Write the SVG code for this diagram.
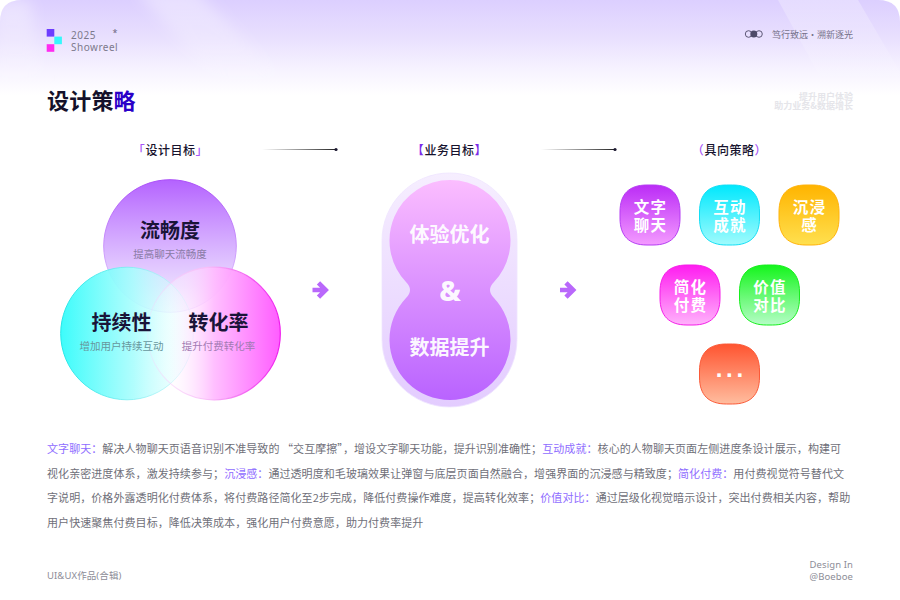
<svg xmlns="http://www.w3.org/2000/svg" width="900" height="600" viewBox="0 0 900 600">
<style>
text{font-family:"Noto Sans CJK SC","Noto Sans",sans-serif}
.r{text-anchor:end}
.hd{font-size:12px;font-weight:500;letter-spacing:.55px;fill:#17132e;text-anchor:middle}
.ac{fill:#a855f7}
.big{font-size:20px;font-weight:700;fill:#1a1438;text-anchor:middle}
.sub{font-size:10.5px;text-anchor:middle}
.cap{font-size:20px;font-weight:700;fill:#fff;text-anchor:middle;fill-opacity:.95}
.sq{font-size:15.5px;font-weight:700;fill:#fff;text-anchor:middle;letter-spacing:1.2px}
.body{font-size:11px;fill:#6f6f79;letter-spacing:.07px}
.hl{fill:#8f6dff}
.foot{font-size:9.5px;fill:#8d8d97;font-family:"Noto Sans","Noto Sans CJK SC",sans-serif;letter-spacing:.1px}
.arrow{fill:none;stroke:#b968fb;stroke-width:4.6}
</style>
<defs>
<linearGradient id="bg" x1="0" y1="0" x2="0" y2="1"><stop offset="0" stop-color="#dccfff"/><stop offset=".38" stop-color="#e8dffe"/><stop offset=".72" stop-color="#f6f2ff"/><stop offset="1" stop-color="#fff"/></linearGradient>
<linearGradient id="band" x1="0" y1="0" x2="0" y2="1"><stop offset="0" stop-color="#fff" stop-opacity=".4"/><stop offset="1" stop-color="#fff" stop-opacity="0"/></linearGradient>
<filter id="soft" x="-30%" y="-30%" width="160%" height="160%"><feGaussianBlur stdDeviation="7"/></filter>
<clipPath id="page"><path d="M0 95V22Q0 0 22 0H878Q900 0 900 22V95Z"/></clipPath>
<linearGradient id="lnk" x1="0" y1="0" x2="1" y2="0"><stop offset="0" stop-color="#333" stop-opacity="0"/><stop offset="1" stop-color="#222"/></linearGradient>
<linearGradient id="cTop" x1="0" y1="0" x2="0" y2="1"><stop offset="0" stop-color="#b462ff"/><stop offset=".8" stop-color="#e4d0ff" stop-opacity=".8"/><stop offset="1" stop-color="#efe6ff" stop-opacity=".5"/></linearGradient>
<linearGradient id="cTopS" x1="0" y1="0" x2="0" y2="1"><stop offset="0" stop-color="#a94cf8"/><stop offset="1" stop-color="#e9dcff"/></linearGradient>
<linearGradient id="cL" x1="0" y1="0" x2="1" y2="0"><stop offset="0" stop-color="#3dfcfb"/><stop offset=".55" stop-color="#a8fdfd" stop-opacity=".9"/><stop offset="1" stop-color="#e8ffff" stop-opacity=".25"/></linearGradient>
<linearGradient id="cLS" x1="0" y1="0" x2="1" y2="0"><stop offset="0" stop-color="#22e6e6"/><stop offset="1" stop-color="#c8f6fb" stop-opacity=".6"/></linearGradient>
<linearGradient id="cR" x1="0" y1="0" x2="1" y2="0"><stop offset="0" stop-color="#fff" stop-opacity="0"/><stop offset=".16" stop-color="#fff" stop-opacity=".25"/><stop offset=".5" stop-color="#ffbcff" stop-opacity=".95"/><stop offset="1" stop-color="#ff5cff"/></linearGradient>
<linearGradient id="cRS" x1="0" y1="0" x2="1" y2="0"><stop offset="0" stop-color="#f8d3fb" stop-opacity=".25"/><stop offset=".45" stop-color="#f8bdf8"/><stop offset="1" stop-color="#ef1bed"/></linearGradient>
<linearGradient id="capO" x1="0" y1="0" x2="0" y2="1"><stop offset="0" stop-color="#f6eeff"/><stop offset="1" stop-color="#e3ccff"/></linearGradient>
<linearGradient id="capI" x1="0" y1="0" x2="0" y2="1"><stop offset="0" stop-color="#fbbdff"/><stop offset="1" stop-color="#b963ff"/></linearGradient>
<linearGradient id="s1" x1="0" y1="0" x2="0" y2="1"><stop offset="0" stop-color="#bb2cf6"/><stop offset="1" stop-color="#f49bff"/></linearGradient>
<linearGradient id="s2" x1="0" y1="0" x2="0" y2="1"><stop offset="0" stop-color="#00e8fd"/><stop offset="1" stop-color="#a0fbfd"/></linearGradient>
<linearGradient id="s3" x1="0" y1="0" x2="0" y2="1"><stop offset="0" stop-color="#ffb400"/><stop offset="1" stop-color="#ffe04f"/></linearGradient>
<linearGradient id="s4" x1="0" y1="0" x2="0" y2="1"><stop offset="0" stop-color="#ff1cf0"/><stop offset="1" stop-color="#ffb3fb"/></linearGradient>
<linearGradient id="s5" x1="0" y1="0" x2="0" y2="1"><stop offset="0" stop-color="#14f51c"/><stop offset="1" stop-color="#b5fdc6"/></linearGradient>
<linearGradient id="s6" x1="0" y1="0" x2="0" y2="1"><stop offset="0" stop-color="#ff5430"/><stop offset="1" stop-color="#ffbd9f"/></linearGradient>
<path id="sq" d="M27 0H33C51 0 60 9 60 27V33C60 51 51 60 33 60H27C9 60 0 51 0 33V27C0 9 9 0 27 0Z"/>
</defs>

<g id="background">
<rect width="900" height="600" fill="#fff"/>
<path d="M0 95V22Q0 0 22 0H878Q900 0 900 22V95Z" fill="url(#bg)"/>
<g clip-path="url(#page)">
<path d="M-5 0H30L45 95H-5Z" fill="url(#band)" filter="url(#soft)"/>
<path d="M135 -10H195L300 95H230Z" fill="url(#band)" filter="url(#soft)"/>
<path d="M778 0H858L900 72V95H830Z" fill="url(#band)" opacity=".7"/>
</g>
</g>

<g id="header">
<rect x="46.7" y="29" width="7.6" height="7.6" fill="#6d3dff"/>
<rect x="54.3" y="36.6" width="7.6" height="7.6" fill="#35f8fb"/>
<rect x="46.7" y="44.2" width="7.6" height="7.6" fill="#ff2bf0"/>
<text x="71" y="38.5" font-size="10" fill="#7d7a8c" style="font-family:'Noto Sans',sans-serif;letter-spacing:.5px">2025</text>
<text x="71" y="50.5" font-size="10" fill="#7d7a8c" style="font-family:'Noto Sans',sans-serif;letter-spacing:.5px">Showreel</text>
<text x="112.5" y="36" font-size="9" fill="#6c6880" style="font-family:'Noto Sans',sans-serif">*</text>
<circle cx="748.6" cy="34" r="3.3" fill="none" stroke="#4e4a68" stroke-width=".9"/>
<circle cx="759" cy="34" r="3.3" fill="none" stroke="#4e4a68" stroke-width=".9"/>
<circle cx="753.8" cy="34" r="3.5" fill="#4e4a68"/>
<text class="r" x="853" y="37.5" font-size="9" fill="#757189">笃行致远·溯新逐光</text>
<text x="47" y="109" font-size="22" font-weight="700" fill="#14112b" letter-spacing=".2">设计策<tspan fill="#2a00c8">略</tspan></text>
<text class="r" x="853" y="100" font-size="9" font-weight="700" fill="#e5e5ea">提升用户体验</text>
<text class="r" x="853" y="109" font-size="9" font-weight="700" fill="#e5e5ea">助力业务&amp;数据增长</text>
</g>

<g id="section-headers">
<text class="hd" x="170.5" y="154.5"><tspan class="ac">「</tspan>设计目标<tspan class="ac">」</tspan></text>
<text class="hd" x="449.5" y="154.5"><tspan fill="#7c2be8">【</tspan>业务目标<tspan fill="#7c2be8">】</tspan></text>
<text class="hd" x="729.5" y="154.5"><tspan class="ac">（</tspan>具向策略<tspan class="ac">）</tspan></text>
</g>

<g id="connectors">
<rect x="262" y="149" width="74" height="1" fill="url(#lnk)"/>
<circle cx="336" cy="149.5" r="1.6" fill="#1b1830"/>
<rect x="541" y="149" width="74" height="1" fill="url(#lnk)"/>
<circle cx="615" cy="149.5" r="1.6" fill="#1b1830"/>
<path class="arrow" d="M312.5 290H326M318.5 282.8L325.7 290L318.5 297.2"/>
<path class="arrow" d="M560 290H573.500M566 282.8L573.2 290L566 297.2"/>
</g>

<g id="venn">
<g id="node-flow">
<circle cx="170" cy="246" r="66.3" fill="url(#cTop)" stroke="url(#cTopS)" stroke-width="1"/>
</g>
<g id="node-retain">
<circle cx="127" cy="333.5" r="66.3" fill="url(#cL)" stroke="url(#cLS)" stroke-width="1"/>
</g>
<g id="node-convert">
<circle cx="214" cy="333.5" r="66.3" fill="url(#cR)" stroke="url(#cRS)" stroke-width="1.2"/>
</g>
<text class="big" x="170" y="237.5">流畅度</text>
<text class="sub" x="170" y="258" fill="#8a7ba6">提高聊天流畅度</text>
<text class="big" x="121.500" y="329.5">持续性</text>
<text class="sub" x="121.500" y="350" fill="#67979d">增加用户持续互动</text>
<text class="big" x="218.500" y="329.5">转化率</text>
<text class="sub" x="218.500" y="350" fill="#a27bb3">提升付费转化率</text>
</g>

<g id="capsule">
<rect x="382" y="173" width="135" height="234" rx="67.5" fill="url(#capO)" stroke="#efe4ff" stroke-width=".8"/>
<path d="M450 180A60.5 60.5 0 0 1 494 282Q486 290 494 298A60.5 60.5 0 1 1 406 298Q414 290 406 282A60.5 60.5 0 0 1 450 180Z" fill="url(#capI)"/>
<text class="cap" x="449.500" y="242">体验优化</text>
<text class="cap" x="450" y="301" style="font-size:28px;font-family:'Noto Sans',sans-serif;font-weight:800">&amp;</text>
<text class="cap" x="449.500" y="355">数据提升</text>
</g>

<g id="strategies">
<g id="s-text" transform="translate(620 185)"><use href="#sq" fill="url(#s1)" stroke="#b53cf3" stroke-width="1"/><text class="sq" x="30.500" y="28">文字</text><text class="sq" x="30.500" y="46">聊天</text></g>
<g id="s-interact" transform="translate(699.500 185)"><use href="#sq" fill="url(#s2)" stroke="#14dff5" stroke-width="1"/><text class="sq" x="30.500" y="28">互动</text><text class="sq" x="30.500" y="46">成就</text></g>
<g id="s-immerse" transform="translate(779 185)"><use href="#sq" fill="url(#s3)" stroke="#ffb30a" stroke-width="1"/><text class="sq" x="30.500" y="28">沉浸</text><text class="sq" x="30.500" y="46">感</text></g>
<g id="s-pay" transform="translate(660 265)"><use href="#sq" fill="url(#s4)" stroke="#f51de8" stroke-width="1"/><text class="sq" x="30.500" y="28">简化</text><text class="sq" x="30.500" y="46">付费</text></g>
<g id="s-value" transform="translate(739.500 265)"><use href="#sq" fill="url(#s5)" stroke="#17ef1e" stroke-width="1"/><text class="sq" x="30.500" y="28">价值</text><text class="sq" x="30.500" y="46">对比</text></g>
<g id="s-more" transform="translate(699.500 344)"><use href="#sq" fill="url(#s6)" stroke="#fb5a38" stroke-width="1"/><text x="31.800" y="32.500" text-anchor="middle" font-size="24" font-weight="700" fill="#fff" style="font-family:'Liberation Sans',sans-serif;letter-spacing:3.7px">...</text></g>
</g>

<g id="description">
<text class="body" x="47" y="453"><tspan class="hl">文字聊天：</tspan>解决人物聊天页语音识别不准导致的 “交互摩擦”，增设文字聊天功能，提升识别准确性；<tspan class="hl">互动成就：</tspan>核心的人物聊天页面左侧进度条设计展示，构建可</text>
<text class="body" x="47" y="477.500">视化亲密进度体系，激发持续参与；<tspan class="hl">沉浸感：</tspan>通过透明度和毛玻璃效果让弹窗与底层页面自然融合，增强界面的沉浸感与精致度；<tspan class="hl">简化付费：</tspan>用付费视觉符号替代文</text>
<text class="body" x="47" y="502">字说明，价格外露透明化付费体系，将付费路径简化至2步完成，降低付费操作难度，提高转化效率；<tspan class="hl">价值对比：</tspan>通过层级化视觉暗示设计，突出付费相关内容，帮助</text>
<text class="body" x="47" y="526.500">用户快速聚焦付费目标，降低决策成本，强化用户付费意愿，助力付费率提升</text>
</g>

<g id="footer">
<text class="foot" x="47" y="579">UI&amp;UX作品(合辑)</text>
<text class="foot r" x="853" y="567.500">Design In</text>
<text class="foot r" x="853" y="579.500">@Boeboe</text>
</g>
</svg>
